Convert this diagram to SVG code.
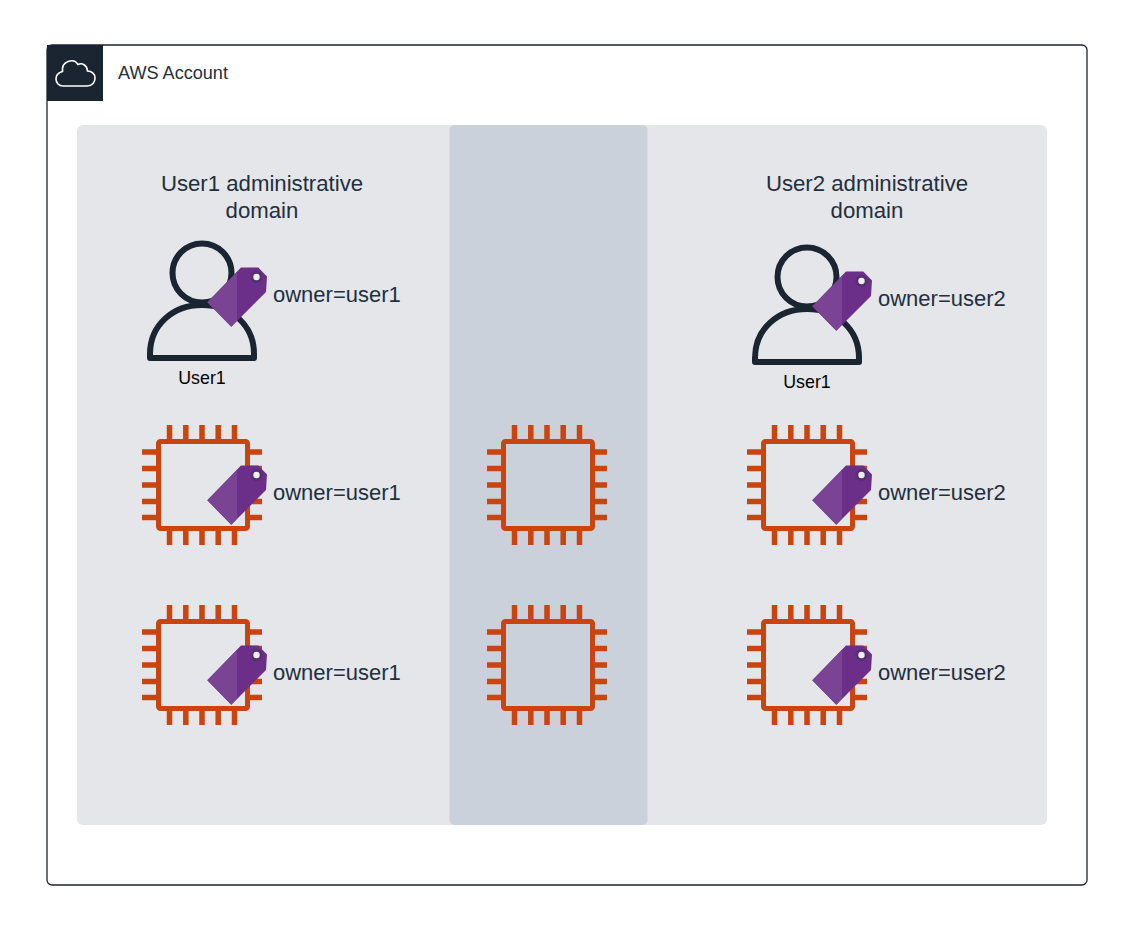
<svg xmlns="http://www.w3.org/2000/svg" width="1127" height="925" viewBox="0 0 1127 925">
<style>
text{font-family:"Liberation Sans",Arial,sans-serif;fill:#232f3e}
.t{font-size:22px}
.c{text-anchor:middle;font-size:22.200px}
.u{font-size:17.800px;fill:#000;text-anchor:middle}
</style>
<defs>
<g id="chip">
<rect x="158.500" y="441.500" width="89" height="87" rx="2" fill="none" stroke="#c9440f" stroke-width="5"/>
<path d="M169.500 425v14M185.800 425v14M202 425v14M218.200 425v14M234.500 425v14M169.500 531v14M185.800 531v14M202 531v14M218.200 531v14M234.500 531v14M142 452h14M142 468.500h14M142 485h14M142 501.500h14M142 517.500h14M248 452h14M248 468.500h14M248 485h14M248 501.500h14M248 517.500h14" fill="none" stroke="#c9440f" stroke-width="5.500"/>
</g>
<g id="tag">
<path d="M207.300 500.300L241 465.500H258.300L267 474.500L266 490L231.300 524.700Z" fill="#6b2f8a"/>
<path d="M207.300 500.300L237 470V518.500L231.300 524.700Z" fill="#7a4394"/>
<circle cx="256.500" cy="475" r="6" fill="#55306f"/>
<circle cx="256.500" cy="475" r="3.200" fill="#f0edf3"/>
</g>
<g id="person">
<circle cx="202" cy="273" r="29.500" fill="none" stroke="#1b2532" stroke-width="6"/>
<path d="M150 358V354C150 325 173 305 202 305C231 305 254 325 254 354V358Z" fill="none" stroke="#1b2532" stroke-width="6" stroke-linejoin="round"/>
</g>
</defs>
<rect width="1127" height="925" fill="#fff"/>
<g id="account">
<rect x="47" y="45" width="1040" height="840" rx="5" fill="#fff" stroke="#1b2532" stroke-width="1.300"/>
<rect x="47" y="45" width="56" height="56" fill="#1b2532"/>
<path d="M63 86H87C92.500 86 95 82 95 78C95 73.500 91.500 71 87.500 71C87 65 82 62.500 78 64.500C76 61 72 60 68 61.500C64 63 62 67 62.500 71.500C58.500 72.500 56 75.500 56 79C56 83 59 86 63 86Z" fill="none" stroke="#fff" stroke-width="1.600"/>
<text x="118" y="79" font-size="18.100">AWS Account</text>
</g>
<g id="user1-domain">
<rect x="77" y="125" width="970" height="700" rx="6" fill="#e4e6ea"/>
<text class="c" x="262" y="191">User1 administrative</text>
<text class="c" x="262" y="218">domain</text>
</g>
<g id="shared-band"><rect x="449.500" y="125" width="198" height="700" rx="5" fill="#cad1da"/></g>
<g id="user2-title">
<text class="c" x="867" y="191">User2 administrative</text>
<text class="c" x="867" y="218">domain</text>
</g>
<g id="user1">
<use href="#person"/><use href="#tag" y="-198"/>
<text class="t" x="273" y="302">owner=user1</text>
<text class="u" x="202" y="384">User1</text>
</g>
<g id="user2">
<use href="#person" x="605" y="4"/><use href="#tag" x="605" y="-194"/>
<text class="t" x="878" y="306">owner=user2</text>
<text class="u" x="807" y="388">User1</text>
</g>
<g id="instance-u1-a"><use href="#chip"/><use href="#tag"/><text class="t" x="273" y="500">owner=user1</text></g>
<g id="instance-u1-b"><use href="#chip" y="180"/><use href="#tag" y="180"/><text class="t" x="273" y="680">owner=user1</text></g>
<g id="instance-shared-a"><use href="#chip" x="345"/></g>
<g id="instance-shared-b"><use href="#chip" x="345" y="180"/></g>
<g id="instance-u2-a"><use href="#chip" x="605"/><use href="#tag" x="605"/><text class="t" x="878" y="500">owner=user2</text></g>
<g id="instance-u2-b"><use href="#chip" x="605" y="180"/><use href="#tag" x="605" y="180"/><text class="t" x="878" y="680">owner=user2</text></g>
<g id="connectors"/>
</svg>
